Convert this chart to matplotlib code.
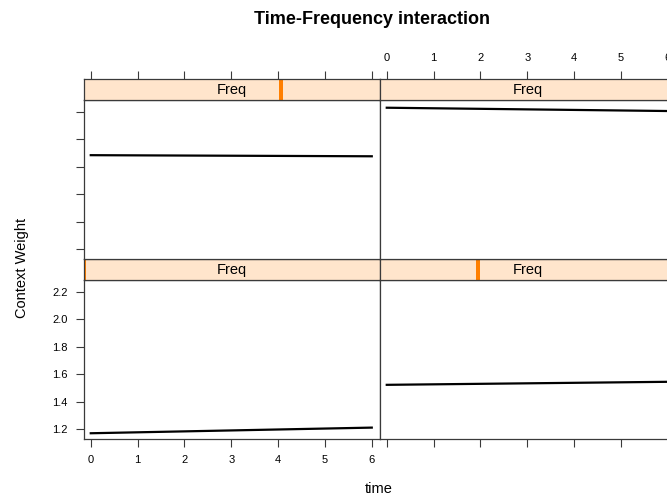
import matplotlib
matplotlib.use("Agg")
import matplotlib.pyplot as plt
from matplotlib.patches import Rectangle

plt.rcParams["font.family"] = ["Liberation Sans", "DejaVu Sans"]

# panel data: one fitted line per Freq level (time 0 -> 6)
time = [0, 6]
freq_level = [0, 1, 2, 3]                       # shingle position of each panel
weight_start = [1.171, 1.523, 1.884, 2.229]
weight_end = [1.212, 1.545, 1.876, 2.205]
panel_rows = [1, 1, 0, 0]                        # 0 = top row
panel_cols = [0, 1, 0, 1]

x_ticks = [0, 1, 2, 3, 4, 5, 6]
y_ticks = [1.2, 1.4, 1.6, 1.8, 2.0, 2.2]
strip_label = "Freq"

W, H = 667, 499
STRIP_BG = "#ffe5cc"
SHINGLE = "#ff7f00"
EDGE = "#3a3a3a"


def box(x0, y0, x1, y1):
    # pixel box (top-left origin) -> figure fraction rect
    return [x0 / W, 1 - y1 / H, (x1 - x0) / W, (y1 - y0) / H]


fig = plt.figure(figsize=(W / 100, H / 100), dpi=100)

col_x = [(83.5, 379.5), (379.5, 675.5)]
row_data = [(100.3, 259.3), (280.3, 439.3)]
row_strip = [(79.3, 100.3), (259.3, 280.3)]

tick_kw = dict(direction="out", length=5.5, width=0.8, color=EDGE,
               labelsize=8, pad=6)

for i in range(len(freq_level)):
    r, c = panel_rows[i], panel_cols[i]
    x0, x1 = col_x[c]
    ya, yb = row_data[r]
    sa, sb = row_strip[r]

    ax = fig.add_axes(box(x0, ya, x1, yb))
    ax.plot(time, [weight_start[i], weight_end[i]], color="black", lw=1.6)
    ax.set_xlim(-0.155, 6.165)
    ax.set_ylim(1.127, 2.283)
    ax.set_xticks(x_ticks)
    ax.set_yticks(y_ticks)
    ax.set_yticklabels([f"{v:.1f}" for v in y_ticks])
    for s in ax.spines.values():
        s.set_color(EDGE)
        s.set_linewidth(0.9)
    ax.tick_params(**tick_kw)
    # right-hand axis lies beyond the cropped edge, so no labels there
    ax.tick_params(top=False,
                   bottom=(r == 1), labelbottom=(r == 1 and c == 0),
                   left=(c == 0), labelleft=(r == 1 and c == 0),
                   right=(c == 1), labelright=False)

    st = fig.add_axes(box(x0, sa, x1, sb))
    st.set_facecolor(STRIP_BG)
    st.set_xlim(ax.get_xlim())
    st.set_ylim(0, 1)
    for s in st.spines.values():
        s.set_color(EDGE)
        s.set_linewidth(0.9)
    pos = freq_level[i] / (len(freq_level) - 1)
    bar_w = 4.3 / (x1 - x0)
    st.add_patch(Rectangle((pos - bar_w / 2, 0), bar_w, 1,
                           transform=st.transAxes, color=SHINGLE, lw=0))
    st.text(0.5, 0.48, strip_label, transform=st.transAxes,
            ha="center", va="center", fontsize=10.5)
    st.set_yticks([])
    st.set_xticks(x_ticks)
    st.tick_params(**tick_kw)
    st.tick_params(bottom=False, labelbottom=False,
                   top=(r == 0), labeltop=(r == 0 and c == 1))

fig.text(371.5 / W, 1 - 20 / H, "Time-Frequency interaction",
         ha="center", va="center", fontsize=13, fontweight="bold")
fig.text(22 / W, 1 - 268 / H, "Context Weight", rotation=90,
         ha="center", va="center", fontsize=10.5)
fig.text(379 / W, 1 - 489 / H, "time", ha="center", va="center",
         fontsize=10.5)

fig.savefig("out.png", dpi=100)
